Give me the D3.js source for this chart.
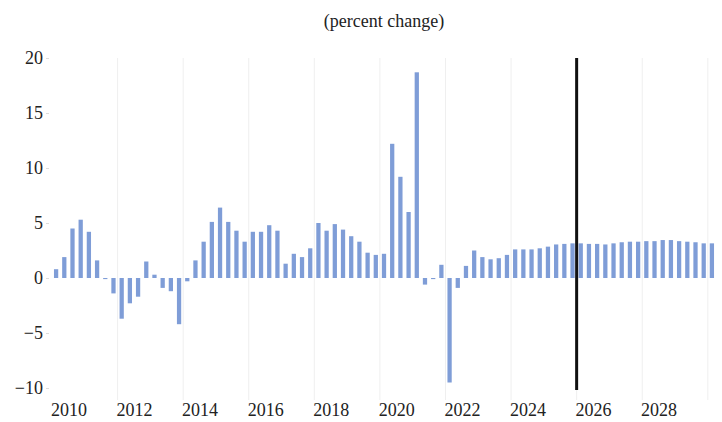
<!DOCTYPE html>
<html>
<head>
<meta charset="utf-8">
<script src="https://cdn.jsdelivr.net/npm/d3@7"></script>
<style>
  html, body { margin: 0; padding: 0; background: #fff; }
  svg { display: block; }
</style>
</head>
<body>
<svg id="chart" width="722" height="422"></svg>
<script>
// Quarterly percent change, 2010Q1 – 2030Q1 (forecast from 2026Q1)
const firstYear = 2010;
const quarters = [];
for (let i = 0; i < 81; i++) {
  quarters.push((firstYear + Math.floor(i / 4)) + "Q" + (i % 4 + 1));
}

const values = [
  0.8, 1.9, 4.5, 5.3,      // 2010
  4.2, 1.6, -0.1, -1.4,    // 2011
  -3.7, -2.3, -1.7, 1.5,   // 2012
  0.3, -0.9, -1.2, -4.2,   // 2013
  -0.3, 1.6, 3.3, 5.1,     // 2014
  6.4, 5.1, 4.3, 3.3,      // 2015
  4.2, 4.2, 4.8, 4.3,      // 2016
  1.3, 2.2, 1.9, 2.7,      // 2017
  5.0, 4.3, 4.9, 4.4,      // 2018
  3.8, 3.3, 2.3, 2.1,      // 2019
  2.2, 12.2, 9.2, 6.0,     // 2020
  18.7, -0.6, -0.1, 1.2,   // 2021
  -9.5, -0.9, 1.1, 2.5,    // 2022
  1.9, 1.7, 1.8, 2.1,      // 2023
  2.6, 2.6, 2.6, 2.7,      // 2024
  2.85, 3.05, 3.1, 3.15,   // 2025
  3.15, 3.1, 3.1, 3.05,    // 2026
  3.15, 3.25, 3.3, 3.3,    // 2027
  3.35, 3.35, 3.45, 3.45,  // 2028
  3.35, 3.3, 3.25, 3.15,   // 2029
  3.15                     // 2030
];

const yearLabels = ["2010", "2012", "2014", "2016", "2018", "2020", "2022", "2024", "2026", "2028"];
const gridYears = [2012, 2014, 2016, 2018, 2020, 2022, 2024, 2026, 2028, 2030];
const yTicks = [-10, -5, 0, 5, 10, 15, 20];
const forecastStart = "2026Q1";
const title = "(percent change)";

const FONT = "'Liberation Serif', 'Times New Roman', serif";
const FONT_SIZE = 18;

const svg = d3.select("#chart");
const plotLeft = 52, plotRight = 716, plotTop = 58, plotBottom = 388;

const x = d3.scaleBand()
  .domain(quarters)
  .range([plotLeft, plotRight])
  .paddingInner(0.48)
  .paddingOuter(0.24);

// continuous year scale sharing the same span, for labels and gridlines
const xYear = d3.scaleLinear()
  .domain([firstYear, firstYear + quarters.length / 4])
  .range([plotLeft, plotRight]);

const y = d3.scaleLinear().domain([-10, 20]).range([plotBottom, plotTop]);

// title
svg.append("text")
  .attr("x", (plotLeft + plotRight) / 2)
  .attr("y", 27)
  .attr("text-anchor", "middle")
  .attr("font-family", FONT)
  .attr("font-size", FONT_SIZE)
  .attr("fill", "#222")
  .text(title);

// vertical gridlines every two years
svg.append("g")
  .selectAll("line")
  .data(gridYears)
  .join("line")
  .attr("x1", d => xYear(d)).attr("x2", d => xYear(d))
  .attr("y1", plotTop).attr("y2", plotBottom + 12)
  .attr("stroke", "#efefef")
  .attr("stroke-width", 1);

// y axis
const yAxis = svg.append("g")
  .attr("transform", `translate(${plotLeft - 3},0)`)
  .call(d3.axisLeft(y).tickValues(yTicks).tickSize(3).tickPadding(3).tickFormat(d3.format("d")));
yAxis.attr("font-family", FONT).attr("font-size", FONT_SIZE);
yAxis.select(".domain").remove();
yAxis.selectAll(".tick line").attr("stroke", "#dddddd");
yAxis.selectAll(".tick text").attr("fill", "#222");

// bars
svg.append("g")
  .selectAll("rect")
  .data(values)
  .join("rect")
  .attr("x", (d, i) => x(quarters[i]))
  .attr("width", x.bandwidth())
  .attr("y", d => y(Math.max(0, d)))
  .attr("height", d => Math.max(1, Math.abs(y(d) - y(0))))
  .attr("fill", "#7f9dd7");

// x labels, centred on each labelled year
const xAxis = svg.append("g")
  .attr("transform", `translate(0,${plotBottom})`)
  .call(d3.axisBottom(xYear)
    .tickValues(yearLabels.map(d => +d + 0.5))
    .tickSize(0)
    .tickPadding(15)
    .tickFormat(d => String(Math.floor(d))));
xAxis.attr("font-family", FONT).attr("font-size", FONT_SIZE);
xAxis.select(".domain").remove();
xAxis.selectAll(".tick text").attr("fill", "#222");

// forecast divider
const xf = xYear(firstYear + quarters.indexOf(forecastStart) / 4);
svg.append("line")
  .attr("x1", xf).attr("x2", xf)
  .attr("y1", plotTop).attr("y2", plotBottom + 2)
  .attr("stroke", "#111")
  .attr("stroke-width", 3);
</script>
</body>
</html>
